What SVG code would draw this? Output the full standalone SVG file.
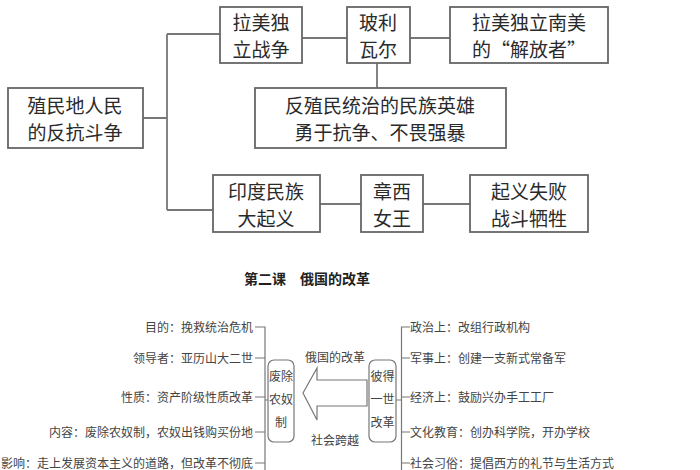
<svg xmlns="http://www.w3.org/2000/svg" width="700" height="470" viewBox="0 0 700 470">
<style>
.b{fill:#fff;stroke:#666;stroke-width:1.8}
.t{font-family:"Noto Sans CJK SC",sans-serif;font-size:19px;fill:#2a2a2a;text-anchor:middle}
.s{font-family:"Noto Sans CJK SC",sans-serif;font-size:12px;fill:#444}
.m{text-anchor:middle}
.l{fill:none;stroke:#777;stroke-width:1.8}
.r{fill:#fff;stroke:#777;stroke-width:1.2}
</style>
<rect width="700" height="470" fill="#fff"/>
<g id="connectors">
<path class="l" d="M143 118H167M167 34V210M167 34H220M167 210H213M302 38H347M410 38H450M377 63V88M320 204H361M423 204H470"/>
<path class="r" d="M255 327H265V470M255 358H265M255 397H265M255 432H265M255 463H265M265 400H268"/>
<path class="r" d="M410 327H401.5V470M410 358H401.5M410 397H401.5M410 432H401.5M410 463H401.5M396 400H401.5"/>
<path class="r" d="M303 393L317 368V380H367V406H317V420Z"/>
</g>
<g id="n1"><rect class="b" x="8" y="88" width="135" height="60"/><text class="t" x="75" y="113">殖民地人民</text><text class="t" x="75" y="140">的反抗斗争</text></g>
<g id="n2"><rect class="b" x="220" y="7" width="82" height="56"/><text class="t" x="261" y="30">拉美独</text><text class="t" x="261" y="57">立战争</text></g>
<g id="n3"><rect class="b" x="347" y="7" width="63" height="56"/><text class="t" x="378" y="30">玻利</text><text class="t" x="378" y="57">瓦尔</text></g>
<g id="n4"><rect class="b" x="450" y="7" width="158" height="56"/><text class="t" x="529" y="30">拉美独立南美</text><text class="t" x="529" y="57">的“解放者”</text></g>
<g id="n5"><rect class="b" x="255" y="88" width="251" height="60"/><text class="t" x="380" y="113">反殖民统治的民族英雄</text><text class="t" x="380" y="140">勇于抗争、不畏强暴</text></g>
<g id="n6"><rect class="b" x="213" y="175" width="107" height="57"/><text class="t" x="266" y="199">印度民族</text><text class="t" x="266" y="226">大起义</text></g>
<g id="n7"><rect class="b" x="361" y="175" width="62" height="57"/><text class="t" x="392" y="199">章西</text><text class="t" x="392" y="226">女王</text></g>
<g id="n8"><rect class="b" x="470" y="175" width="118" height="57"/><text class="t" x="529" y="199">起义失败</text><text class="t" x="529" y="226">战斗牺牲</text></g>
<text x="307" y="284" style="font-family:'Noto Sans CJK SC',sans-serif;font-size:14px;font-weight:bold;text-anchor:middle" fill="#222">第二课　俄国的改革</text>
<g id="left" class="s" style="text-anchor:end">
<text x="253" y="332">目的：挽救统治危机</text>
<text x="253" y="363">领导者：亚历山大二世</text>
<text x="253" y="402">性质：资产阶级性质改革</text>
<text x="253" y="437">内容：废除农奴制，农奴出钱购买份地</text>
<text x="253" y="468">影响：走上发展资本主义的道路，但改革不彻底</text>
</g>
<g id="n9"><rect class="r" x="268" y="360" width="26" height="82" rx="6"/><text class="s m" x="281" y="381">废除</text><text class="s m" x="281" y="404">农奴</text><text class="s m" x="281" y="427">制</text></g>
<text class="s m" x="335" y="362">俄国的改革</text>
<text class="s m" x="335" y="445">社会跨越</text>
<g id="n10"><rect class="r" x="369" y="360" width="27" height="82" rx="6"/><text class="s m" x="382.5" y="381">彼得</text><text class="s m" x="382.5" y="404">一世</text><text class="s m" x="382.5" y="427">改革</text></g>
<g id="right" class="s">
<text x="410" y="332">政治上：改组行政机构</text>
<text x="410" y="363">军事上：创建一支新式常备军</text>
<text x="410" y="402">经济上：鼓励兴办手工工厂</text>
<text x="410" y="437">文化教育：创办科学院，开办学校</text>
<text x="410" y="468">社会习俗：提倡西方的礼节与生活方式</text>
</g>
</svg>
